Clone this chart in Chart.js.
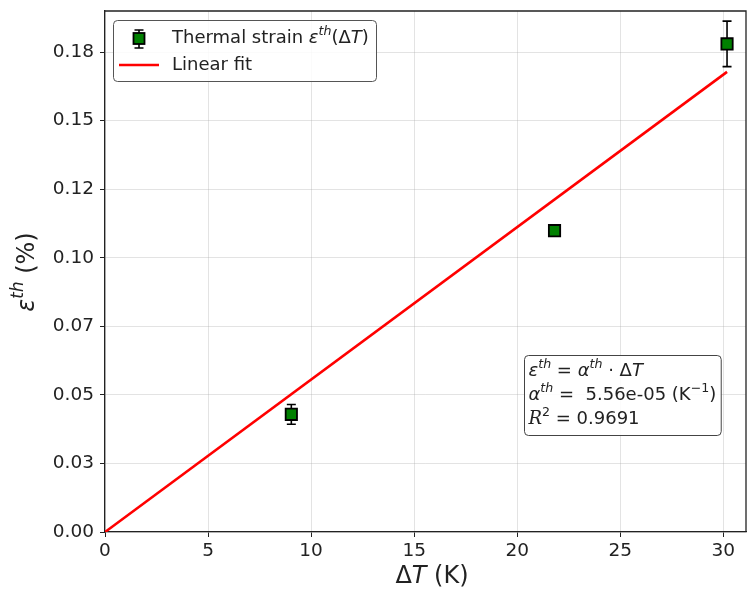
<!DOCTYPE html>
<html>
<head>
<meta charset="utf-8">
<script src="https://cdn.jsdelivr.net/npm/chart.js@4.4.0/dist/chart.umd.min.js"></script>
<style>
  html, body { margin: 0; padding: 0; background: #fff; }
  #wrap { width: 748px; height: 591px; }
</style>
</head>
<body>
<div id="wrap"><canvas id="strainChart" width="748" height="591"></canvas></div>
<script>
// measured temperature rise (K) and thermal strain (%)
const deltaT = [9.04, 21.81, 30.18];
const strain = [0.0429, 0.1099, 0.1780];
const strainErr = [0.0036, 0.0010, 0.0083];

// linear fit result (alpha in 1/K, strain axis in %)
const alphaTh = 5.56e-05;
const rSquared = 0.9691;

const xTicks = [0, 5, 10, 15, 20, 25, 30];
const yTicks = [0, 0.025, 0.05, 0.075, 0.1, 0.125, 0.15, 0.175];
const yTickLabels = ['0.00', '0.03', '0.05', '0.07', '0.10', '0.12', '0.15', '0.18'];

const FONT = "'DejaVu Sans', sans-serif";
const SPINE = '#222';

const fitX = [0, Math.max(...deltaT)];

// draws a run of text pieces (italic / superscript), returns width
function drawRich(ctx, x, y, parts, size, measureOnly) {
    let cx = x;
    parts.forEach(p => {
        const s = p.sup ? size * 0.7 : size;
        ctx.font = (p.it ? 'italic ' : '') + s + 'px ' + (p.font || FONT);
        if (!measureOnly) {
            ctx.fillText(p.t, cx, y + (p.sup ? -size * 0.4 : 0));
        }
        cx += ctx.measureText(p.t).width;
    });
    return cx - x;
}

function expLabel(v) {
    // 5.56e-5 -> 5.56e-05
    return v.toExponential(2).replace(/e([+-])(\d)$/, 'e$10$2');
}

function roundRect(ctx, x, y, w, h, r) {
    ctx.beginPath();
    ctx.moveTo(x + r, y);
    ctx.arcTo(x + w, y, x + w, y + h, r);
    ctx.arcTo(x + w, y + h, x, y + h, r);
    ctx.arcTo(x, y + h, x, y, r);
    ctx.arcTo(x, y, x + w, y, r);
    ctx.closePath();
}

function drawErrorMarker(ctx, x, up, down) {
    ctx.strokeStyle = '#000';
    ctx.lineWidth = 1.6;
    ctx.beginPath();
    ctx.moveTo(x, up); ctx.lineTo(x, down);
    ctx.moveTo(x - 4.5, up); ctx.lineTo(x + 4.5, up);
    ctx.moveTo(x - 4.5, down); ctx.lineTo(x + 4.5, down);
    ctx.stroke();
}

const errorBars = {
    id: 'errorBars',
    beforeDatasetsDraw(chart) {
        const ctx = chart.ctx, xs = chart.scales.x, ys = chart.scales.y;
        ctx.save();
        deltaT.forEach((t, i) => {
            drawErrorMarker(ctx, xs.getPixelForValue(t),
                ys.getPixelForValue(strain[i] + strainErr[i]),
                ys.getPixelForValue(strain[i] - strainErr[i]));
        });
        ctx.restore();
    }
};

const decorations = {
    id: 'decorations',
    afterDraw(chart) {
        const ctx = chart.ctx, a = chart.chartArea;
        ctx.save();

        // top and right spines
        ctx.strokeStyle = SPINE;
        ctx.lineWidth = 1.3;
        ctx.beginPath();
        ctx.moveTo(a.left, a.top); ctx.lineTo(a.right, a.top); ctx.lineTo(a.right, a.bottom);
        ctx.stroke();

        ctx.fillStyle = '#222';
        ctx.textBaseline = 'middle';

        // axis titles
        const xTitle = [{ t: 'Δ' }, { t: 'T', it: true }, { t: ' (K)' }];
        const xw = drawRich(ctx, 0, 0, xTitle, 24, true);
        drawRich(ctx, 432 - xw / 2, 577, xTitle, 24);

        const yTitle = [{ t: 'ε', it: true }, { t: 'th', it: true, sup: true }, { t: ' (%)' }];
        const yw = drawRich(ctx, 0, 0, yTitle, 24, true);
        ctx.save();
        ctx.translate(28, 272);
        ctx.rotate(-Math.PI / 2);
        drawRich(ctx, -yw / 2, 0, yTitle, 24);
        ctx.restore();

        // legend
        const lx = 113.5, ly = 20.5;
        ctx.fillStyle = 'rgba(255,255,255,0.85)';
        ctx.strokeStyle = '#555';
        ctx.lineWidth = 1;
        roundRect(ctx, lx, ly, 263, 61, 4);
        ctx.fill();
        ctx.stroke();

        drawErrorMarker(ctx, 139, 30, 48);
        ctx.fillStyle = '#008000';
        ctx.strokeStyle = '#000';
        ctx.lineWidth = 1.8;
        ctx.fillRect(133.5, 33, 11, 11);
        ctx.strokeRect(133.5, 33, 11, 11);

        ctx.strokeStyle = 'red';
        ctx.lineWidth = 2.5;
        ctx.beginPath();
        ctx.moveTo(119, 65); ctx.lineTo(159, 65);
        ctx.stroke();

        ctx.fillStyle = '#222';
        drawRich(ctx, 172, 38.5, [
            { t: 'Thermal strain ' }, { t: 'ε', it: true }, { t: 'th', it: true, sup: true },
            { t: '(Δ' }, { t: 'T', it: true }, { t: ')' }
        ], 18);
        drawRich(ctx, 172, 65, [{ t: 'Linear fit' }], 18);

        // fit summary box
        const lines = [
            [{ t: 'ε', it: true }, { t: 'th', it: true, sup: true }, { t: ' = ' },
             { t: 'α', it: true }, { t: 'th', it: true, sup: true }, { t: ' · Δ' }, { t: 'T', it: true }],
            [{ t: 'α', it: true }, { t: 'th', it: true, sup: true },
             { t: ' =  ' + expLabel(alphaTh) + ' (K' }, { t: '−1', sup: true }, { t: ')' }],
            [{ t: 'R', it: true, font: "'DejaVu Serif', serif" }, { t: '2', sup: true },
             { t: ' = ' + rSquared.toFixed(4) }]
        ];
        const fs = 18;
        let bw = 0;
        lines.forEach(l => { bw = Math.max(bw, drawRich(ctx, 0, 0, l, fs, true)); });
        const bx = 524.5, by = 355.5;
        ctx.fillStyle = 'rgba(255,255,255,0.9)';
        ctx.strokeStyle = '#444';
        ctx.lineWidth = 1;
        roundRect(ctx, bx, by, bw + 9, 80, 4);
        ctx.fill();
        ctx.stroke();
        ctx.fillStyle = '#222';
        lines.forEach((l, i) => drawRich(ctx, bx + 4, by + 16 + i * 24, l, fs));

        ctx.restore();
    }
};

new Chart(document.getElementById('strainChart'), {
    type: 'scatter',
    data: {
        datasets: [{
            label: 'Thermal strain',
            data: deltaT.map((t, i) => ({ x: t, y: strain[i] })),
            pointStyle: 'rect',
            pointRadius: 8,
            pointHoverRadius: 8,
            backgroundColor: '#008000',
            borderColor: '#000',
            borderWidth: 1.8,
            order: 0
        }, {
            type: 'line',
            label: 'Linear fit',
            data: fitX.map(t => ({ x: t, y: alphaTh * 100 * t })),
            borderColor: 'red',
            borderWidth: 2.6,
            pointRadius: 0,
            fill: false,
            order: 1
        }]
    },
    options: {
        responsive: false,
        animation: false,
        devicePixelRatio: 1,
        layout: { autoPadding: false, padding: { top: 11, right: 2, left: 0, bottom: 0 } },
        plugins: {
            legend: { display: false },
            tooltip: { enabled: false }
        },
        scales: {
            x: {
                type: 'linear',
                min: 0,
                max: 31.1,
                afterFit: s => { s.height = 59; s.paddingLeft = 0; s.paddingRight = 0; },
                afterBuildTicks: s => { s.ticks = xTicks.map(v => ({ value: v })); },
                ticks: { color: '#222', font: { family: FONT, size: 18.5 }, padding: 3, maxRotation: 0 },
                grid: { color: 'rgba(176,176,176,0.35)', tickColor: SPINE, tickLength: 5, lineWidth: 1 },
                border: { color: SPINE, width: 1.3 }
            },
            y: {
                type: 'linear',
                min: 0,
                max: 0.19,
                afterFit: s => { s.width = 105; s.paddingTop = 0; s.paddingBottom = 0; },
                afterBuildTicks: s => { s.ticks = yTicks.map(v => ({ value: v })); },
                ticks: {
                    color: '#222',
                    font: { family: FONT, size: 18.5 },
                    padding: 6,
                    callback: v => yTickLabels[yTicks.indexOf(v)]
                },
                grid: { color: 'rgba(176,176,176,0.35)', tickColor: SPINE, tickLength: 5, lineWidth: 1 },
                border: { color: SPINE, width: 1.3 }
            }
        }
    },
    plugins: [errorBars, decorations]
});
</script>
</body>
</html>
